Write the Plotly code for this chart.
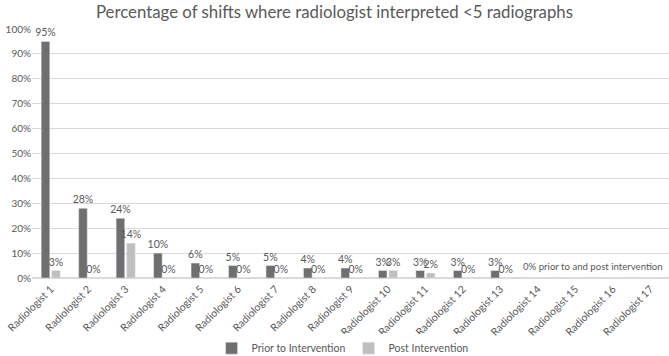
import plotly.graph_objects as go

categories = [f"Radiologist {i}" for i in range(1, 18)]
prior = [95, 28, 24, 10, 6, 5, 5, 4, 4, 3, 3, 3, 3, 0, 0, 0, 0]
post = [3, 0, 14, 0, 0, 0, 0, 0, 0, 3, 2, 0, 0, 0, 0, 0, 0]
prior_labels = ["95%", "28%", "24%", "10%", "6%", "5%", "5%", "4%", "4%", "3%", "3%", "3%", "3%", "", "", "", ""]
post_labels = ["3%", "0%", "14%", "0%", "0%", "0%", "0%", "0%", "0%", "3%", "2%", "0%", "0%", "", "", "", ""]

FONT = "Lato"
TXT = "#595959"

fig = go.Figure()
fig.add_trace(go.Bar(x=categories, y=prior, name="Prior to Intervention",
                     marker_color="#6f6f6f", text=prior_labels, textposition="outside",
                     constraintext="none",
                     textfont=dict(family=FONT, size=10.5, color=TXT), cliponaxis=False))
fig.add_trace(go.Bar(x=categories, y=post, name="Post Intervention",
                     marker_color="#bfbfbf", text=post_labels, textposition="outside",
                     constraintext="none",
                     textfont=dict(family=FONT, size=10.5, color=TXT), cliponaxis=False))

fig.add_annotation(x=0.994, y=4.5, xref="paper", yref="y", xanchor="right",
                   text="0% prior to and post intervention", showarrow=False,
                   font=dict(family=FONT, size=9.6, color=TXT))

fig.update_layout(
    width=669, height=356,
    margin=dict(l=32, r=0, t=29, b=78, autoexpand=False),
    paper_bgcolor="white", plot_bgcolor="white",
    barmode="group", bargap=0.44, bargroupgap=0.18,
    title=dict(text="Percentage of shifts where radiologist interpreted <5 radiographs",
               x=0.5, xref="container", y=0.966, yref="container", yanchor="middle",
               font=dict(family=FONT, size=16.8, color=TXT)),
    font=dict(family=FONT, size=10, color=TXT),
    legend=dict(orientation="h", x=0.497, xanchor="center", y=0.022, yref="container",
                yanchor="middle", entrywidth=92, entrywidthmode="pixels",
                itemwidth=30,
                font=dict(family=FONT, size=10.5, color=TXT), traceorder="normal"),
)
fig.update_yaxes(range=[0, 100], dtick=10, ticksuffix="%", showgrid=True, automargin=False,
                 gridcolor="#d9d9d9", gridwidth=1, zeroline=True, zerolinecolor="#d9d9d9",
                 tickfont=dict(family=FONT, size=10, color=TXT), ticks="")
fig.update_xaxes(tickangle=-45, showline=True, linecolor="#d9d9d9", ticks="", automargin=False,
                 tickfont=dict(family=FONT, size=10.5, color=TXT))

fig.write_html("out.html", config={"displayModeBar": False},
               post_script="document.body.style.margin='0';")
